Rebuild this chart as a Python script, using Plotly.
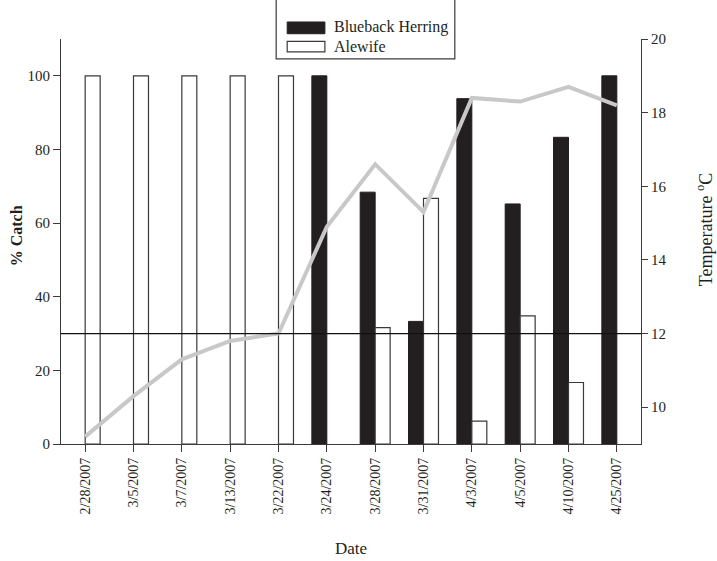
import plotly.graph_objects as go

# Sampling dates
dates = ["2/28/2007", "3/5/2007", "3/7/2007", "3/13/2007", "3/22/2007", "3/24/2007",
         "3/28/2007", "3/31/2007", "4/3/2007", "4/5/2007", "4/10/2007", "4/25/2007"]

# Percent of catch by species
blueback_pct = [0, 0, 0, 0, 0, 100, 68.4, 33.3, 93.8, 65.2, 83.3, 100]
alewife_pct = [100, 100, 100, 100, 100, 0, 31.6, 66.7, 6.2, 34.8, 16.7, 0]

# Water temperature (deg C)
temperature_c = [9.2, 10.3, 11.3, 11.8, 12.0, 14.9, 16.6, 15.3, 18.4, 18.3, 18.7, 18.2]

# Reference temperature line
threshold_c = 12

series_names = ["Blueback Herring", "Alewife"]

FONT = "Liberation Serif, Times New Roman, serif"
INK = "#231f20"
AXIS = "#3a3a3a"


def outline_widths(values, w):
    # no outline on empty bars so nothing is drawn at the baseline
    return [w if v else 0 for v in values]


fig = go.Figure()

fig.add_trace(go.Bar(
    x=dates, y=blueback_pct, name=series_names[0],
    marker=dict(color=INK, line=dict(color=INK, width=outline_widths(blueback_pct, 1))),
    showlegend=False,
))
fig.add_trace(go.Bar(
    x=dates, y=alewife_pct, name=series_names[1],
    marker=dict(color="white", line=dict(color=AXIS, width=outline_widths(alewife_pct, 1.2))),
    showlegend=False,
))
fig.add_trace(go.Scatter(
    x=dates, y=temperature_c, yaxis="y2", mode="lines",
    line=dict(color="#c8c8c8", width=4),
    showlegend=False,
))

# horizontal reference line at the temperature threshold
fig.add_shape(type="line", xref="paper", x0=0, x1=1, yref="y2", y0=threshold_c, y1=threshold_c,
              line=dict(color="#111", width=1.2), layer="above")

# legend box drawn by hand (wide swatches)
fig.add_shape(type="rect", xref="paper", yref="paper", x0=0.371, x1=0.679, y0=0.951, y1=1.10,
              line=dict(color=AXIS, width=1.2), fillcolor="white", layer="above")
fig.add_shape(type="rect", xref="paper", yref="paper", x0=0.390, x1=0.455, y0=1.013, y1=1.042,
              line=dict(color=INK, width=1), fillcolor=INK, layer="above")
fig.add_shape(type="rect", xref="paper", yref="paper", x0=0.390, x1=0.455, y0=0.968, y1=0.994,
              line=dict(color=AXIS, width=1.2), fillcolor="white", layer="above")
fig.add_annotation(text=series_names[0], xref="paper", yref="paper", x=0.467, y=1.029,
                   xanchor="left", yanchor="middle", showarrow=False,
                   font=dict(family=FONT, size=16, color=INK))
fig.add_annotation(text=series_names[1], xref="paper", yref="paper", x=0.467, y=0.981,
                   xanchor="left", yanchor="middle", showarrow=False,
                   font=dict(family=FONT, size=16, color=INK))

# axis titles
fig.add_annotation(text="<b>% Catch</b>", xref="paper", yref="paper", x=-0.076, y=0.515,
                   textangle=-90, showarrow=False, xanchor="center", yanchor="middle",
                   font=dict(family=FONT, size=16, color=INK))
fig.add_annotation(text="Temperature <sup>o</sup>C", xref="paper", yref="paper", x=1.11, y=0.53,
                   textangle=-90, showarrow=False, xanchor="center", yanchor="middle",
                   font=dict(family=FONT, size=18, color=INK))
fig.add_annotation(text="Date", xref="paper", yref="paper", x=0.5, y=-0.257,
                   showarrow=False, xanchor="center", yanchor="middle",
                   font=dict(family=FONT, size=17, color=INK))

fig.update_layout(
    width=717, height=561,
    margin=dict(l=61, r=76, t=39, b=117),
    paper_bgcolor="white", plot_bgcolor="white",
    barmode="group", bargap=0.38, bargroupgap=0,
    font=dict(family=FONT, size=14, color=INK),
    xaxis=dict(
        type="category", range=[-0.5, 11.5], automargin=False,
        showline=True, linecolor=AXIS, linewidth=1.2,
        ticks="outside", ticklen=7, tickcolor=AXIS, tickangle=-90,
        showgrid=False, zeroline=False,
    ),
    yaxis=dict(
        range=[0, 110], tickvals=[0, 20, 40, 60, 80, 100], automargin=False,
        tickfont=dict(size=15),
        showline=True, linecolor=AXIS, linewidth=1.2,
        ticks="outside", ticklen=7, tickcolor=AXIS,
        showgrid=False, zeroline=False,
    ),
    yaxis2=dict(
        overlaying="y", side="right", anchor="x", automargin=False,
        range=[9, 20], tickvals=[10, 12, 14, 16, 18, 20],
        tickfont=dict(size=15),
        showline=True, linecolor=AXIS, linewidth=1.2,
        ticks="outside", ticklen=6, tickcolor=AXIS,
        showgrid=False, zeroline=False,
    ),
)

fig.write_html("out.html")
